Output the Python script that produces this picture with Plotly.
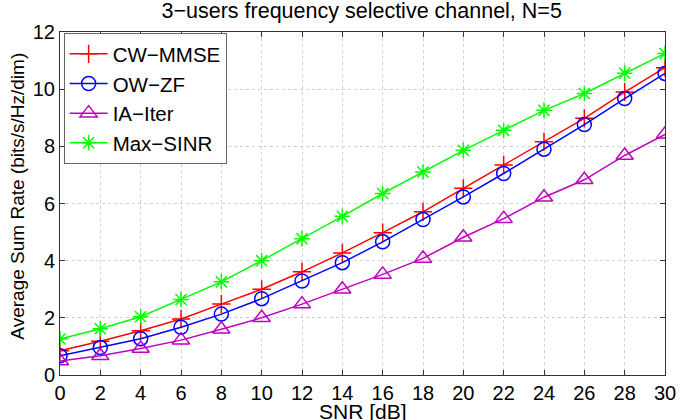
import plotly.graph_objects as go

snr = [0, 2, 4, 6, 8, 10, 12, 14, 16, 18, 20, 22, 24, 26, 28, 30]
cw_mmse = [0.85, 1.18, 1.55, 1.96, 2.48, 3.0, 3.61, 4.27, 4.98, 5.71, 6.53, 7.35, 8.16, 8.98, 9.9, 10.75]
ow_zf = [0.67, 0.96, 1.27, 1.67, 2.13, 2.67, 3.29, 3.93, 4.66, 5.44, 6.23, 7.05, 7.9, 8.76, 9.67, 10.55]
ia_iter = [0.49, 0.67, 0.93, 1.22, 1.6, 2.0, 2.48, 3.0, 3.52, 4.08, 4.82, 5.47, 6.22, 6.83, 7.68, 8.42]
max_sinr = [1.26, 1.62, 2.04, 2.64, 3.26, 4.0, 4.77, 5.55, 6.35, 7.1, 7.86, 8.56, 9.26, 9.85, 10.56, 11.25]

series = [
    ("CW\u2212MMSE", cw_mmse, "#ff0000", "cross-thin", 13),
    ("OW\u2212ZF", ow_zf, "#0000ff", "circle-open", 14),
    ("IA\u2212Iter", ia_iter, "#bf00bf", "triangle-up-open", 15),
    ("Max\u2212SINR", max_sinr, "#00ff00", "asterisk-open", 13),
]

fig = go.Figure()
for i, (name, ys, col, sym, sz) in enumerate(series):
    fig.add_trace(go.Scatter(
        x=snr, y=ys, name=name, mode="lines+markers",
        line=dict(color=col, width=1.5),
        marker=dict(symbol=sym, size=sz, color=col, line=dict(color=col, width=1.5)),
    ))

font = "Liberation Sans, Arial, sans-serif"
axis_common = dict(
    showline=True, linecolor="#333333", linewidth=1, mirror="ticks",
    ticks="inside", ticklen=5, tickcolor="#333333",
    showgrid=True, gridcolor="#d2d2d2", griddash="dot", gridwidth=1,
    zeroline=False, tickfont=dict(size=20, color="black", family=font),
    automargin=False,
)
fig.update_xaxes(range=[0, 30], dtick=2, tick0=0, **axis_common)
fig.update_yaxes(range=[0, 12], dtick=2, tick0=0, **axis_common)

fig.add_annotation(text="SNR [dB]", xref="paper", yref="paper", x=0.5, y=0,
                   yshift=-36, xanchor="center", yanchor="middle", showarrow=False,
                   font=dict(size=21, color="black", family=font))
fig.add_annotation(text="Average Sum Rate (bits/s/Hz/dim)", xref="paper", yref="paper",
                   x=0, xshift=-42, y=0.52, xanchor="center", yanchor="middle",
                   textangle=-90, showarrow=False,
                   font=dict(size=19, color="black", family=font))

fig.update_layout(
    width=685, height=420,
    margin=dict(l=60, r=20, t=32, b=45),
    paper_bgcolor="white", plot_bgcolor="white",
    font=dict(family=font, color="black"),
    title=dict(text="3\u2212users frequency selective channel, N=5", x=0.528, xanchor="center",
               y=0.976, yanchor="middle", font=dict(size=21.5, color="black", family=font)),
    legend=dict(x=0.006, y=0.997, xanchor="left", yanchor="top",
                bgcolor="white", bordercolor="#666666", borderwidth=1,
                font=dict(size=20.5, color="black", family=font),
                itemwidth=38),
    showlegend=True,
)

fig.write_html("out.html", config={"displayModeBar": False},
               post_script="document.body.style.margin='0';document.body.style.padding='0';")
